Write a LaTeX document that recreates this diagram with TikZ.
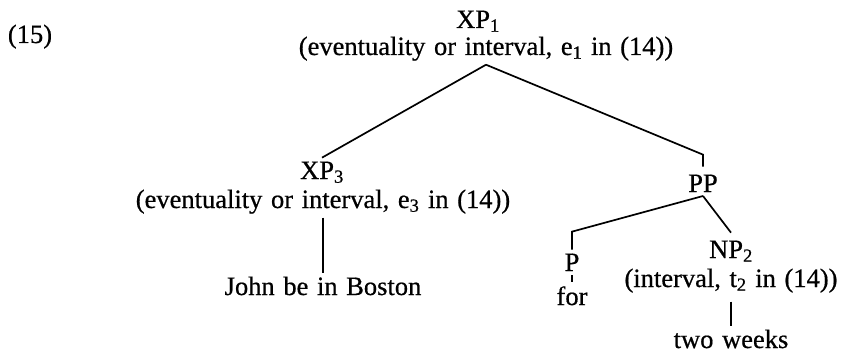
\documentclass[tikz,border=0pt]{standalone}
\usepackage{fontspec}
\setmainfont{Liberation Serif}[WordSpace=1.3, FakeBold=0.6]
\usepackage{tikz}
\usetikzlibrary{positioning}

\begin{document}
\begin{tikzpicture}[
    x=1pt, y=1pt,
    font=\fontsize{26.5}{28}\selectfont,
    lab/.style={anchor=base, inner sep=0pt, outer sep=4pt},
    branch/.style={line width=1.7pt},
  ]
  \useasboundingbox (0,0) rectangle (845,354);

  \node[lab] (exnum) at (30,311) {(15)};

  \node[lab] (xp1)     at (478,326) {XP\textsubscript{1}};
  \node[lab] (xp1info) at (486,299) {(eventuality or interval, e\textsubscript{1} in (14))};

  \node[lab] (xp3)     at (322,175) {XP\textsubscript{3}};
  \node[lab] (xp3info) at (323,146) {(eventuality or interval, e\textsubscript{3} in (14))};
  \node[lab] (john)    at (323,59)  {John be in Boston};

  \node[lab] (pp)      at (703,162) {PP};
  \node[lab] (p)       at (572,83)  {P};
  \node[lab] (for)     at (572,49)  {for};
  \node[lab] (np2)     at (731,96)  {NP\textsubscript{2}};
  \node[lab] (np2info) at (731,67)  {(interval, t\textsubscript{2} in (14))};
  \node[lab] (weeks)   at (731,6)   {two weeks};

  \draw[branch] (xp1info.south) -- (xp3.north);
  \draw[branch] (xp1info.south) -- ([yshift=16pt]pp.north) -- ([yshift=4pt]pp.north);

  \draw[branch] (xp3info.south) -- (john.north);

  \draw[branch] (pp.south) -- ([yshift=18pt]p.north) -- (p.north);
  \draw[branch] (pp.south) -- ([yshift=4pt]np2.north);
  \draw[branch] (p.south) -- (for.north);
  \draw[branch] ([yshift=-5pt]np2info.south) -- (weeks.north);

\end{tikzpicture}
\end{document}
